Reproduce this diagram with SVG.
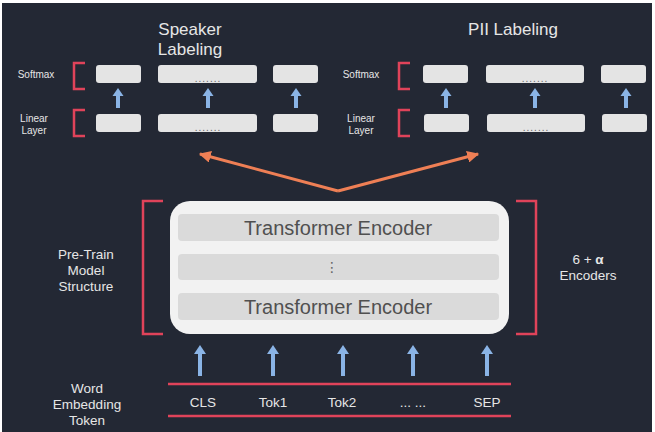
<svg xmlns="http://www.w3.org/2000/svg" width="655" height="432" viewBox="0 0 655 432">
<defs>
<style>
.lbl{font-family:"Liberation Sans",Arial,sans-serif;fill:#e6e6e6;text-anchor:middle}
.sm{font-size:10px}
.md{font-size:13.5px}
.ttl{font-size:17px}
.box{fill:#e4e4e4}
.dots{font-family:"Liberation Sans",Arial,sans-serif;font-size:10px;fill:#666;text-anchor:middle;letter-spacing:1px}
.brk{fill:none;stroke:#e0435a;stroke-width:2.5}
.blue{stroke:#8ab4e6;stroke-width:4;fill:none}
.bluehead{fill:#8ab4e6}
.enc{font-family:"Liberation Sans",Arial,sans-serif;font-size:20px;fill:#505050;text-anchor:middle}
.orange{stroke:#ee7f55;stroke-width:3;fill:none}
</style>
<marker id="ah" viewBox="0 0 10 10" refX="9" refY="5" markerWidth="4" markerHeight="4" orient="auto" markerUnits="strokeWidth">
<path d="M0,0 L10,5 L0,10 z" fill="#ee7f55"/>
</marker>
<g id="upArrow">
<line x1="0" y1="20" x2="0" y2="7" class="blue"/>
<path d="M-5.5,8 L0,0 L5.5,8 z" class="bluehead"/>
</g>
<g id="tokArrow">
<line x1="0" y1="31" x2="0" y2="8" class="blue"/>
<path d="M-6,9 L0,0 L6,9 z" class="bluehead"/>
</g>
</defs>
<rect x="0" y="0" width="655" height="432" fill="#ffffff"/>
<rect x="2" y="3" width="650" height="429" fill="#232834"/>

<g id="speaker-title">
<text class="lbl ttl" x="190" y="35">Speaker</text>
<text class="lbl ttl" x="190" y="55">Labeling</text>
</g>
<g id="pii-title">
<text class="lbl ttl" x="513" y="35">PII Labeling</text>
</g>

<g id="speaker-softmax">
<text class="lbl sm" x="36" y="78">Softmax</text>
<path class="brk" d="M85,63 H74 V89 H85"/>
<rect class="box" x="96" y="65" width="45" height="18" rx="3"/>
<rect class="box" x="158" y="65" width="99" height="18" rx="3"/>
<text class="dots" x="208" y="82">.......</text>
<rect class="box" x="273" y="65" width="45" height="18" rx="3"/>
</g>
<g id="speaker-linear">
<text class="lbl sm" x="34" y="122">Linear</text>
<text class="lbl sm" x="34" y="134">Layer</text>
<path class="brk" d="M85,110 H74 V136 H85"/>
<rect class="box" x="96" y="114" width="45" height="18" rx="3"/>
<rect class="box" x="158" y="114" width="99" height="18" rx="3"/>
<text class="dots" x="208" y="131">.......</text>
<rect class="box" x="273" y="114" width="45" height="18" rx="3"/>
</g>

<g id="pii-softmax">
<text class="lbl sm" x="361" y="78">Softmax</text>
<path class="brk" d="M410,63 H399 V89 H410"/>
<rect class="box" x="423" y="65" width="45" height="18" rx="3"/>
<rect class="box" x="486" y="65" width="98" height="18" rx="3"/>
<text class="dots" x="535" y="82">.......</text>
<rect class="box" x="601" y="65" width="45" height="18" rx="3"/>
</g>
<g id="pii-linear">
<text class="lbl sm" x="361" y="122">Linear</text>
<text class="lbl sm" x="361" y="134">Layer</text>
<path class="brk" d="M410,110 H399 V136 H410"/>
<rect class="box" x="424" y="114" width="45" height="18" rx="3"/>
<rect class="box" x="487" y="114" width="98" height="18" rx="3"/>
<text class="dots" x="536" y="131">.......</text>
<rect class="box" x="602" y="114" width="45" height="18" rx="3"/>
</g>

<g id="encoder">
<rect x="170" y="201" width="339" height="133" rx="20" fill="#f2f2f2"/>
<rect x="178" y="214" width="321" height="27" rx="4" fill="#dadada"/>
<rect x="178" y="254" width="321" height="26" rx="4" fill="#dadada"/>
<rect x="178" y="293" width="321" height="27" rx="4" fill="#dadada"/>
<text class="enc" x="338" y="235">Transformer Encoder</text>
<text class="enc" x="338" y="314">Transformer Encoder</text>
<text x="332" y="272" font-family="DejaVu Sans,sans-serif" font-size="14" fill="#666" text-anchor="middle">⋮</text>
</g>

<g id="pretrain-label">
<text class="lbl md" x="86" y="259">Pre-Train</text>
<text class="lbl md" x="86" y="275">Model</text>
<text class="lbl md" x="86" y="291">Structure</text>
<path class="brk" d="M163,201 H143 V334 H163"/>
</g>
<g id="encoders-label">
<path class="brk" d="M516,201 H536 V334 H516"/>
<text class="lbl md" x="588" y="264">6 + <tspan font-weight="bold">α</tspan></text>
<text class="lbl md" x="588" y="280">Encoders</text>
</g>

<g id="tokens">
<text class="lbl md" x="87" y="393">Word</text>
<text class="lbl md" x="87" y="409">Embedding</text>
<text class="lbl md" x="87" y="425">Token</text>
<line x1="168" y1="384" x2="511" y2="384" stroke="#e0435a" stroke-width="2.5"/>
<line x1="168" y1="416" x2="511" y2="416" stroke="#e0435a" stroke-width="2.5"/>
<text class="lbl md" x="203" y="407">CLS</text>
<text class="lbl md" x="273" y="407">Tok1</text>
<text class="lbl md" x="342" y="407">Tok2</text>
<text class="lbl md" x="413" y="407">... ...</text>
<text class="lbl md" x="487" y="407">SEP</text>
</g>

<g id="connectors">
<use href="#upArrow" x="118" y="88"/>
<use href="#upArrow" x="208" y="88"/>
<use href="#upArrow" x="296" y="88"/>
<use href="#upArrow" x="446" y="88"/>
<use href="#upArrow" x="535" y="88"/>
<use href="#upArrow" x="626" y="88"/>
<use href="#tokArrow" x="200" y="345"/>
<use href="#tokArrow" x="273" y="345"/>
<use href="#tokArrow" x="343" y="345"/>
<use href="#tokArrow" x="413" y="345"/>
<use href="#tokArrow" x="487" y="345"/>
<line class="orange" x1="338" y1="191" x2="200" y2="154" marker-end="url(#ah)"/>
<line class="orange" x1="338" y1="191" x2="478" y2="154" marker-end="url(#ah)"/>
</g>
</svg>
